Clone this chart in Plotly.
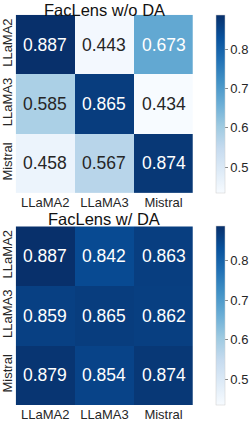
import plotly.graph_objects as go

models = ["LLaMA2", "LLaMA3", "Mistral"]
wo_da = [[0.887, 0.443, 0.673],
         [0.585, 0.865, 0.434],
         [0.458, 0.567, 0.874]]
w_da = [[0.887, 0.842, 0.863],
        [0.859, 0.865, 0.862],
        [0.879, 0.854, 0.874]]
titles = ["FacLens w/o DA", "FacLens w/ DA"]
cbar_ticks = [0.5, 0.6, 0.7, 0.8]

W, H = 249, 422
zmin = min(min(r) for r in wo_da + w_da)
zmax = max(max(r) for r in wo_da + w_da)

fig = go.Figure()
panels = [(wo_da, 15, 195, 0), (w_da, 228.5, 409, 211.5)]
font = "Liberation Sans, Arial, sans-serif"
for i, (z, top, bot, ty) in enumerate(panels):
    xa = "x" if i == 0 else "x2"
    ya = "y" if i == 0 else "y2"
    ca = "coloraxis" if i == 0 else "coloraxis2"
    fig.add_trace(go.Heatmap(z=z, x=models, y=models, coloraxis=ca,
                             xaxis=xa, yaxis=ya, hoverinfo="skip"))
    dom = [1 - bot / H, 1 - top / H]
    sfx = "" if i == 0 else "2"
    fig.layout["xaxis" + sfx] = dict(domain=[14 / W, 195 / W], anchor=ya,
                                     showgrid=False, zeroline=False, ticks="", ticklen=0,
                                     tickfont=dict(size=13, color="#262626", family=font),
                                     ticklabelstandoff=0)
    fig.layout["yaxis" + sfx] = dict(domain=dom, anchor=xa, autorange="reversed",
                                     showgrid=False, zeroline=False, ticks="", ticklen=0,
                                     tickangle=-90,
                                     tickfont=dict(size=13, color="#262626", family=font),
                                     ticklabelstandoff=0)
    fig.layout[ca] = dict(colorscale="Blues", cmin=zmin, cmax=zmax,
                          colorbar=dict(x=218 / W, xanchor="left", xpad=0, ypad=0,
                                        thickness=9, thicknessmode="pixels",
                                        len=(bot - top) / H, lenmode="fraction",
                                        y=1 - (top + bot) / 2 / H, yanchor="middle",
                                        tickvals=cbar_ticks, ticks="outside",
                                        ticklen=3, tickwidth=0.6, tickcolor="#888",
                                        outlinewidth=0.5, outlinecolor="#ccc",
                                        tickfont=dict(size=13, color="#262626", family=font)))
    for r, row in enumerate(z):
        for c, v in enumerate(row):
            frac = (v - zmin) / (zmax - zmin)
            col = "white" if frac > 0.5 else "#262626"
            fig.add_annotation(x=models[c], y=models[r], xref=xa, yref=ya,
                               text=f"{v:.3f}", showarrow=False,
                               font=dict(size=17.5, color=col, family=font))
    fig.add_annotation(x=(14 + 195) / 2 / W, y=1 - ty / H, xref="paper", yref="paper",
                       text=titles[i], showarrow=False, yanchor="top", borderpad=0,
                       font=dict(size=16.5, color="#111", family=font))

fig.update_layout(width=W, height=H, margin=dict(l=0, r=0, t=0, b=0),
                  plot_bgcolor="white", paper_bgcolor="white", showlegend=False)
fig.write_html("out.html", config=dict(displayModeBar=False, responsive=False),
               post_script="document.body.style.margin='0';document.body.style.overflow='hidden';")
